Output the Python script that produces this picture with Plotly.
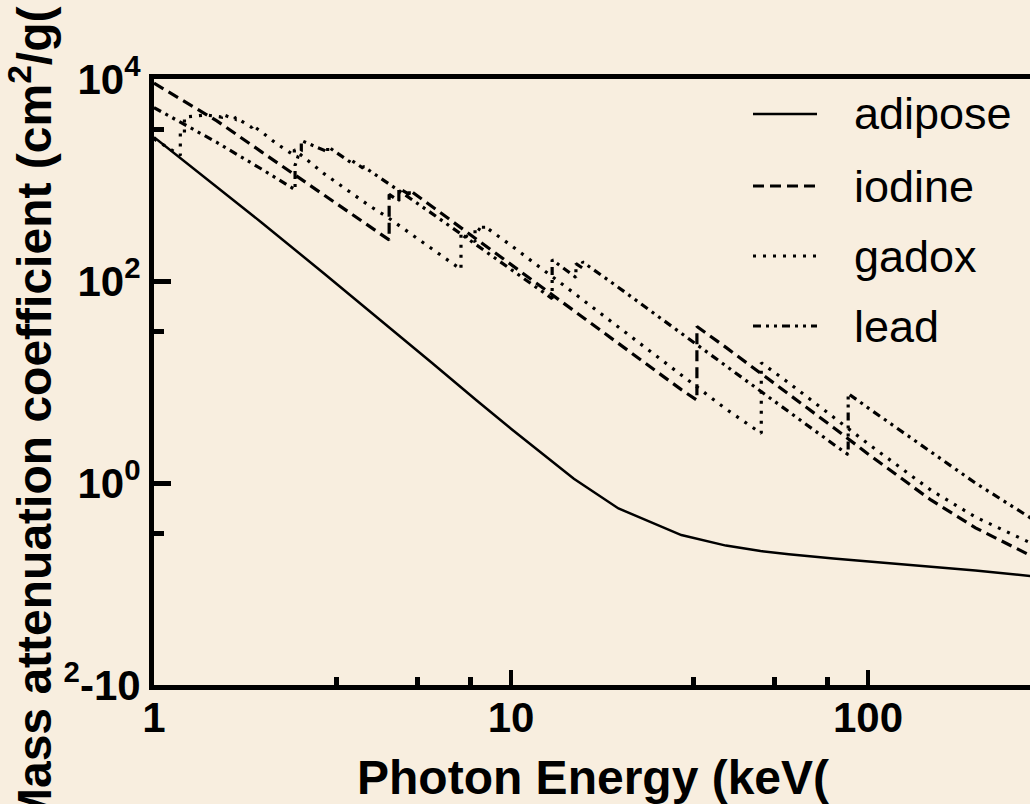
import numpy as np
import plotly.graph_objects as go

# ---------------- data ----------------
adipose_E = [1, 1.5, 2, 3, 4, 5, 6, 8, 10, 15, 20, 30, 40, 50, 60, 80, 100, 150, 200, 300]
adipose_mu = [2650, 850, 380, 118, 51, 26.5, 15.5, 6.6, 3.45, 1.1, 0.56, 0.305, 0.24, 0.212,
              0.197, 0.179, 0.168, 0.149, 0.136, 0.118]

iodine_E = [1, 1.5, 2, 3, 4, 4.557, 4.557, 4.852, 4.852, 5.188, 5.188, 6, 8, 10, 15, 20, 30,
            33.17, 33.17, 40, 50, 60, 80, 100, 150, 200, 300]
iodine_mu = [9100, 3850, 1900, 700, 350, 255, 720, 620, 830, 720, 800, 548, 260, 145, 50.6, 24,
             8.4, 6.6, 35.5, 22.0, 12.3, 7.6, 3.55, 1.94, 0.68, 0.36, 0.175]

gadox_E = [1, 1.185, 1.185, 1.217, 1.217, 1.4, 1.544, 1.544, 1.688, 1.688, 1.881, 1.881, 2.0,
           2.2, 2.472, 2.472, 3.0, 3.5, 4.0, 4.5, 5.0, 6.0, 7.243, 7.243, 7.93, 7.93, 8.376,
           8.376, 10, 15, 20, 30, 40, 50.24, 50.24, 60, 80, 100, 150, 200, 300]
gadox_mu = [2550, 1750, 2900, 2800, 4200, 4400, 4200, 4500, 4000, 4200, 3300, 3500, 3000,
            2300, 1750, 2000, 1150, 780, 560, 430, 330, 205, 130, 300, 245, 345, 305,
            355, 225, 76, 35, 11.5, 5.4, 3.1, 15.5, 9.8, 4.45, 2.45, 0.85, 0.46, 0.235]

lead_E = [1, 1.5, 2, 2.484, 2.484, 2.534, 2.586, 2.586, 3, 3.066, 3.066, 3.301, 3.554, 3.554,
          3.699, 3.851, 3.851, 4, 5, 6, 8, 10, 13.04, 13.04, 15, 15.2, 15.2, 15.53, 15.86,
          15.86, 20, 30, 40, 50, 60, 80, 88.0, 88.0, 100, 150, 200, 300]
lead_mu = [5210, 2356, 1285, 800.6, 1397, 1726, 1944, 2458, 1965, 1857, 2146, 1796, 1496,
           1585, 1442, 1311, 1368, 1251, 730.4, 467.2, 228.7, 130.6, 67.0, 162.1, 111.6,
           108.4, 148.5, 141.6, 134.4, 154.8, 86.36, 30.32, 14.36, 8.041, 5.021, 2.419,
           1.91, 7.683, 5.549, 2.014, 0.9985, 0.4031]

series_names = ["adipose", "iodine", "gadox", "lead"]

x_tick_vals = [1, 10, 100]
x_tick_text = ["1", "10", "100"]
y_tick_vals = [1e4, 1e2, 1e0, 1e-2]
y_tick_text = ["10<sup>4</sup>", "10<sup>2</sup>", "10<sup>0</sup>", "<sup>2</sup>-10"]

x_title = "Photon Energy (keV("
y_title = "Mass attenuation coefficient (cm<sup>2</sup>/g("

# ---------------- styling ----------------
W, H = 1030, 804
L, R, T, B = 154, 0, 79, 119
PW, PH = W - L - R, H - T - B
BG = "#F8EEDF"
FONT = "Liberation Sans, Arial, Helvetica, sans-serif"


def pxx(x):
    return (x - L) / PW


def pxy(y):
    return (H - B - y) / PH


line_styles = {
    "adipose": dict(color="black", width=2.5, dash="solid"),
    "iodine": dict(color="black", width=3.2, dash="11px,6px"),
    "gadox": dict(color="black", width=3.2, dash="3px,7px"),
    "lead": dict(color="black", width=3.2, dash="8px,5px,3px,5px,3px,5px"),
}

data = {
    "adipose": (adipose_E, adipose_mu),
    "iodine": (iodine_E, iodine_mu),
    "gadox": (gadox_E, gadox_mu),
    "lead": (lead_E, lead_mu),
}

fig = go.Figure()
for name in series_names:
    E, mu = data[name]
    fig.add_trace(go.Scatter(x=E, y=mu, mode="lines", name=name,
                             line=line_styles[name], showlegend=False))

x_minor = [10 ** (d + f) for d in (0, 1, 2) for f in (0.51, 0.737, 0.887)]
y_minor = [10 ** 3.5, 10 ** 1.5, 10 ** -0.5]

fig.update_layout(
    width=W, height=H,
    margin=dict(l=L, r=R, t=T, b=B, pad=0),
    paper_bgcolor=BG, plot_bgcolor=BG,
    font=dict(family=FONT, color="black"),
    xaxis=dict(
        type="log", range=[0, PW / 357.0],
        tickmode="array", tickvals=x_tick_vals, ticktext=x_tick_text,
        ticks="inside", ticklen=15, tickwidth=4, tickcolor="black",
        showline=True, linewidth=5, linecolor="black", mirror=True,
        showgrid=False, zeroline=False,
        tickfont=dict(family=FONT, size=42, color="black", weight="bold"),
        ticklabelstandoff=-8,
        minor=dict(tickmode="array", tickvals=x_minor, ticks="inside", ticklen=8,
                   tickwidth=5, tickcolor="black", showgrid=False),
    ),
    yaxis=dict(
        type="log", range=[-2, 4],
        tickmode="array", tickvals=y_tick_vals, ticktext=y_tick_text,
        ticks="inside", ticklen=17, tickwidth=5, tickcolor="black",
        showline=True, linewidth=5, linecolor="black", mirror=False,
        showgrid=False, zeroline=False,
        tickfont=dict(family=FONT, size=42, color="black", weight="bold"),
        minor=dict(tickmode="array", tickvals=y_minor, ticks="inside", ticklen=10,
                   tickwidth=5, tickcolor="black", showgrid=False),
    ),
)

# axis titles
fig.add_annotation(text=x_title, xref="paper", yref="paper", x=pxx(593), y=pxy(777),
                   xanchor="center", yanchor="middle", showarrow=False,
                   font=dict(family=FONT, size=48, color="black", weight="bold"))
fig.add_annotation(text=y_title, xref="paper", yref="paper", x=pxx(31), y=pxy(418),
                   xanchor="center", yanchor="middle", showarrow=False, textangle=-90,
                   font=dict(family=FONT, size=48, color="black", weight="bold"))

# legend (drawn manually to match the reference layout)
legend_y = [114, 186, 256, 326]
for name, yy in zip(series_names, legend_y):
    st = line_styles[name]
    fig.add_shape(type="line", xref="paper", yref="paper",
                  x0=pxx(753), x1=pxx(817), y0=pxy(yy), y1=pxy(yy),
                  line=dict(color="black", width=st["width"], dash=st["dash"]))
    fig.add_annotation(text=name, xref="paper", yref="paper", x=pxx(852), y=pxy(yy),
                       xanchor="left", yanchor="middle", showarrow=False,
                       font=dict(family=FONT, size=45, color="black"))

fig.write_html("out.html",
               config={"displayModeBar": False},
               post_script="document.body.style.margin='0';document.body.style.padding='0';")
